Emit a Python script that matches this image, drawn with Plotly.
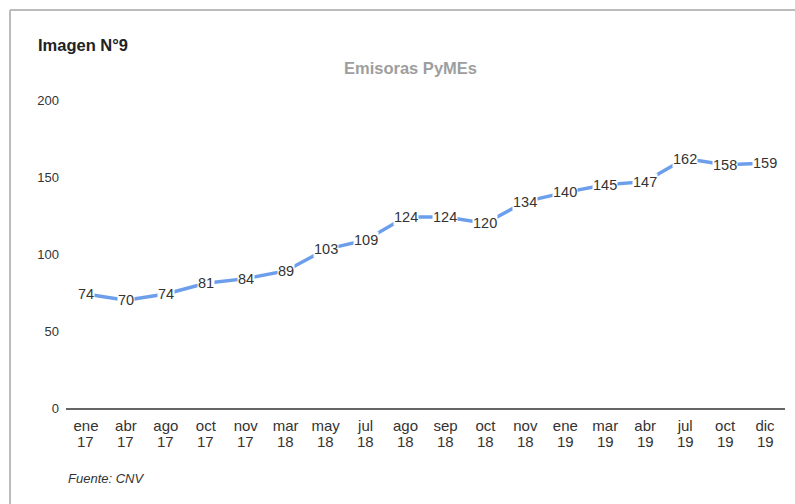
import plotly.graph_objects as go

months = ["ene", "abr", "ago", "oct", "nov", "mar", "may", "jul", "ago", "sep", "oct", "nov",
          "ene", "mar", "abr", "jul", "oct", "dic"]
years = ["17", "17", "17", "17", "17", "18", "18", "18", "18", "18", "18", "18",
         "19", "19", "19", "19", "19", "19"]
values = [74, 70, 74, 81, 84, 89, 103, 109, 124, 124, 120, 134, 140, 145, 147, 162, 158, 159]
y_ticks = [0, 50, 100, 150, 200]

title_text = "Imagen N°9"
subtitle_text = "Emisoras PyMEs"
source_text = "Fuente: CNV"

FONT = "Arial, Liberation Sans, sans-serif"
W, H = 795, 504
ML, MR, MT, MB = 66, 10, 100, 96
PW = W - ML - MR
PH = H - MT - MB

def px_x(px):
    return (px - ML) / PW

def px_y(py):
    return (H - MB - py) / PH

x_idx = list(range(len(months)))

fig = go.Figure()
fig.add_trace(go.Scatter(
    x=x_idx, y=values, mode="lines",
    line=dict(color="#6d9eeb", width=3.5),
    hoverinfo="skip", showlegend=False,
))

annotations = []
for i, v in zip(x_idx, values):
    annotations.append(dict(
        x=i, y=v, xref="x", yref="y", text=str(v), showarrow=False,
        font=dict(family=FONT, size=14.5, color="#333333"),
        bgcolor="white", borderpad=0, xanchor="center", yanchor="middle",
    ))

for i, yr in zip(x_idx, years):
    annotations.append(dict(
        x=i, y=px_y(441), xref="x", yref="paper", text=yr, showarrow=False,
        font=dict(family=FONT, size=15, color="#333333"),
        xanchor="center", yanchor="middle",
    ))

annotations += [
    dict(x=px_x(36), y=px_y(45), xref="paper", yref="paper", text="<b>" + title_text + "</b>",
         showarrow=False, xanchor="left", yanchor="middle",
         font=dict(family=FONT, size=16.5, color="#222222")),
    dict(x=px_x(410), y=px_y(68), xref="paper", yref="paper", text="<b>" + subtitle_text + "</b>",
         showarrow=False, xanchor="center", yanchor="middle",
         font=dict(family=FONT, size=16.5, color="#9e9e9e")),
    dict(x=px_x(66), y=px_y(478), xref="paper", yref="paper", text="<i>" + source_text + "</i>",
         showarrow=False, xanchor="left", yanchor="middle",
         font=dict(family=FONT, size=13, color="#333333")),
]

shapes = [
    dict(type="line", xref="paper", yref="paper", x0=px_x(10), x1=px_x(10),
         y0=px_y(10), y1=px_y(H + 5), line=dict(color="#bbbbbb", width=2)),
    dict(type="line", xref="paper", yref="paper", x0=px_x(10), x1=px_x(W + 5),
         y0=px_y(10), y1=px_y(10), line=dict(color="#bbbbbb", width=2)),
]

fig.update_layout(
    width=W, height=H,
    margin=dict(l=ML, r=MR, t=MT, b=MB),
    paper_bgcolor="white", plot_bgcolor="white",
    annotations=annotations, shapes=shapes,
    xaxis=dict(
        tickmode="array", tickvals=x_idx, ticktext=months,
        range=[-0.5, len(months) - 0.5],
        showgrid=False, zeroline=False, showline=True,
        linecolor="#666666", linewidth=1.5, ticks="",
        ticklabelstandoff=3,
        tickfont=dict(family=FONT, size=15, color="#333333"),
        fixedrange=True,
    ),
    yaxis=dict(
        tickmode="array", tickvals=y_ticks, range=[0, 200],
        showgrid=False, zeroline=False, showline=False, ticks="",
        ticklabelstandoff=6,
        tickfont=dict(family=FONT, size=13, color="#333333"),
        fixedrange=True,
    ),
)

fig.write_html("out.html")
